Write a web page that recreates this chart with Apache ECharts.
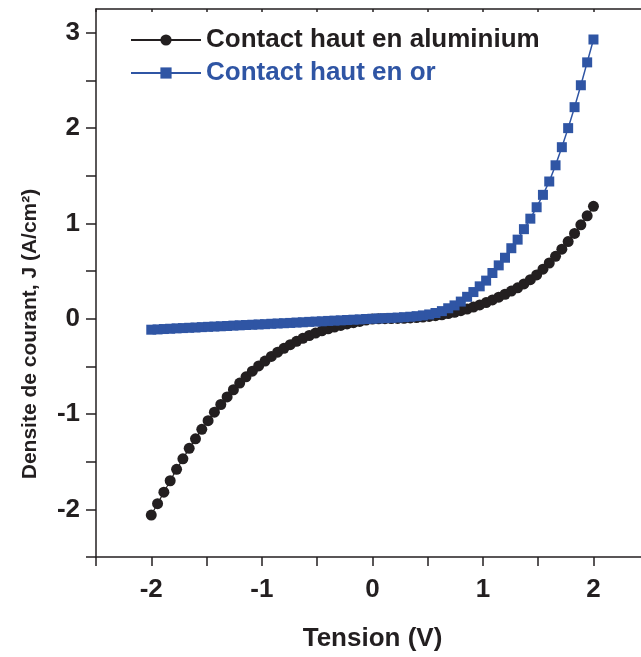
<!DOCTYPE html>
<html>
<head>
<meta charset="utf-8">
<script src="https://cdn.jsdelivr.net/npm/echarts@6/dist/echarts.min.js"></script>
<style>html,body{margin:0;padding:0;background:#fff;}#c{width:641px;height:657px;}</style>
</head>
<body>
<div id="c"></div>
<script>
var xTitle = 'Tension (V)';
var yTitle = 'Densite de courant, J (A/cm²)';
var seriesNames = ['Contact haut en aluminium', 'Contact haut en or'];
var xTickLabels = [-2, -1, 0, 1, 2];
var yTickLabels = [-2, -1, 0, 1, 2, 3];
var xMinorTicks = [-2.5, -2, -1.5, -1, -0.5, 0, 0.5, 1, 1.5, 2];
var yMinorTicks = [-2.5, -2, -1.5, -1, -0.5, 0, 0.5, 1, 1.5, 2, 2.5, 3];
var voltage = [-2.000,-1.943,-1.886,-1.829,-1.771,-1.714,-1.657,-1.600,-1.543,-1.486,-1.429,-1.371,-1.314,-1.257,-1.200,-1.143,-1.086,-1.029,-0.971,-0.914,-0.857,-0.800,-0.743,-0.686,-0.629,-0.571,-0.514,-0.457,-0.400,-0.343,-0.286,-0.229,-0.171,-0.114,-0.057,0.000,0.057,0.114,0.171,0.229,0.286,0.343,0.400,0.457,0.514,0.571,0.629,0.686,0.743,0.800,0.857,0.914,0.971,1.029,1.086,1.143,1.200,1.257,1.314,1.371,1.429,1.486,1.543,1.600,1.657,1.714,1.771,1.829,1.886,1.943,2.000];
var jAluminium = [-2.06,-1.94,-1.82,-1.70,-1.58,-1.47,-1.36,-1.26,-1.16,-1.07,-0.98,-0.90,
  -0.82,-0.745,-0.675,-0.61,-0.55,-0.495,-0.444,-0.396,-0.351,-0.310,-0.272,-0.237,-0.205,-0.176,-0.150,-0.127,-0.106,-0.087,-0.070,-0.055,-0.041,-0.028,-0.014,
  -0.003,
  0.0,0.001,0.002,0.003,0.005,0.008,0.012,0.017,0.024,0.032,0.042,0.054,0.068,0.084,0.102,0.122,0.145,0.17,0.197,0.226,0.257,0.29,0.325,0.365,0.41,0.46,0.52,0.585,0.655,0.73,0.81,0.895,0.985,1.08,1.18];
var jOr = [-0.115,-0.112,-0.108,-0.105,-0.101,-0.098,-0.095,-0.092,-0.088,-0.085,-0.082,-0.079,-0.076,-0.072,-0.069,-0.066,-0.063,-0.060,-0.057,-0.053,-0.050,-0.047,-0.044,-0.040,-0.037,-0.033,-0.030,-0.027,-0.023,-0.020,-0.017,-0.013,-0.010,-0.007,-0.003,0.000,
  0.003,0.006,0.009,0.012,0.016,0.021,0.027,0.035,0.045,0.06,0.08,0.11,0.14,0.18,0.23,0.28,0.34,0.40,0.48,0.56,0.64,0.74,0.83,0.94,1.05,1.17,1.30,1.44,1.61,1.80,2.00,2.22,2.45,2.69,2.93];

var BLACK = '#231f20', BLUE = '#2f55a4';
var FONT = "'Liberation Sans', Arial, sans-serif";
function pairs(xs, ys){ return xs.map(function(x,i){ return [x, ys[i]]; }); }

var chart = echarts.init(document.getElementById('c'), null, {renderer:'canvas'});
chart.setOption({
  animation: false,
  backgroundColor: '#fff',
  grid: { left: 96, top: 9, right: 0, bottom: 89, containLabel: false },
  legend: {
    orient: 'vertical', left: 125, top: 22,
    itemWidth: 70, itemHeight: 14, itemGap: 7,
    textStyle: { fontFamily: FONT, fontSize: 26, fontWeight: 'bold', lineHeight: 26 },
    data: [
      { name: seriesNames[0], textStyle: { color: BLACK } },
      { name: seriesNames[1], textStyle: { color: BLUE } }
    ]
  },
  graphic: [{
    type: 'text', x: 30, y: 334, rotation: Math.PI / 2,
    style: { text: yTitle, fontFamily: FONT, fontSize: 21, fontWeight: 'bold', fill: BLACK, align: 'center', verticalAlign: 'middle' }
  }],
  xAxis: [{
    type: 'value', min: -2.5, max: 2.43, position: 'bottom',
    name: xTitle, nameLocation: 'middle', nameGap: 69,
    nameTextStyle: { fontFamily: FONT, fontSize: 26, fontWeight: 'bold', color: BLACK, padding: [0, 0, 0, 8] },
    axisLine: { show: true, onZero: false, lineStyle: { color: BLACK, width: 1.5 } },
    axisTick: { show: true, inside: false, length: 9, lineStyle: { color: BLACK, width: 1.5 }, customValues: xMinorTicks },
    axisLabel: { show: true, margin: 20, fontFamily: FONT, fontSize: 26, fontWeight: 'bold', color: BLACK, customValues: xTickLabels },
    splitLine: { show: false }
  }, {
    type: 'value', min: -2.5, max: 2.43, position: 'top',
    axisLine: { show: true, onZero: false, lineStyle: { color: BLACK, width: 1.5 } },
    axisTick: { show: true, inside: true, length: 3, lineStyle: { color: BLACK, width: 1.5 }, customValues: xMinorTicks },
    axisLabel: { show: false }, splitLine: { show: false }
  }],
  yAxis: {
    type: 'value', min: -2.5, max: 3.25,
    axisLine: { show: true, onZero: false, lineStyle: { color: BLACK, width: 1.5 } },
    axisTick: { show: true, inside: false, length: 10, lineStyle: { color: BLACK, width: 1.5 }, customValues: yMinorTicks },
    axisLabel: { show: true, margin: 16, fontFamily: FONT, fontSize: 26, fontWeight: 'bold', color: BLACK, customValues: yTickLabels },
    splitLine: { show: false }
  },
  series: [{
    name: seriesNames[0], type: 'line', data: pairs(voltage, jAluminium),
    symbol: 'circle', symbolSize: 11, showAllSymbol: true,
    lineStyle: { color: BLACK, width: 1.2 }, itemStyle: { color: BLACK }, z: 2
  }, {
    name: seriesNames[1], type: 'line', data: pairs(voltage, jOr),
    symbol: 'rect', symbolSize: 10, showAllSymbol: true,
    lineStyle: { color: BLUE, width: 1.5 }, itemStyle: { color: BLUE }, z: 3
  }]
});
</script>
</body>
</html>
